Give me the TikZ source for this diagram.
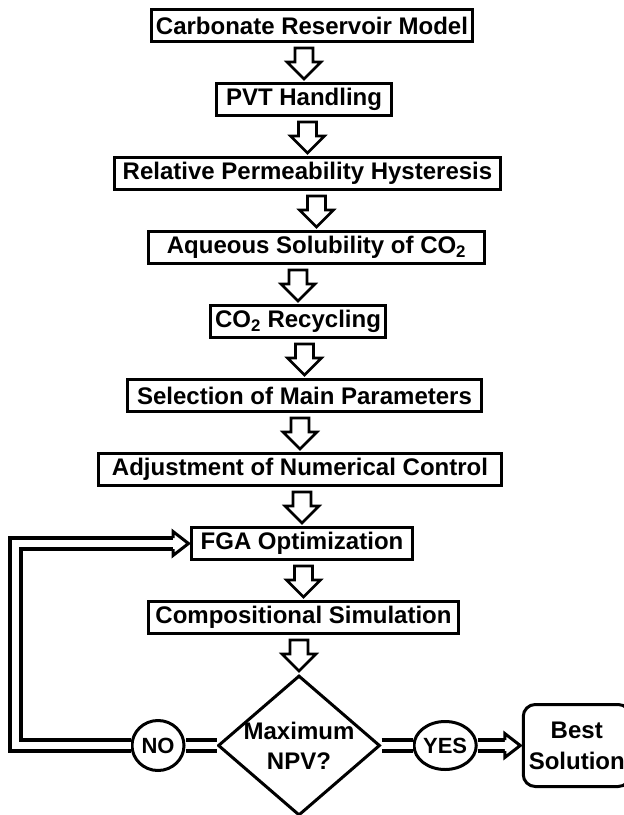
\documentclass[tikz,border=0pt]{standalone}
\usepackage{fontspec}
\setmainfont{Liberation Sans}
\usepackage{tikz}
\usetikzlibrary{shapes.geometric,positioning,calc}
\tikzset{
  stepbox/.style={draw=black,fill=white,line width=3pt,minimum height=32pt,
    inner xsep=4pt,inner ysep=0pt,font=\fontsize{24}{28}\selectfont\bfseries,align=center},
  decision/.style={diamond,draw=black,fill=white,line width=3pt,minimum width=162pt,
    minimum height=140pt,inner sep=-8pt,font=\fontsize{24}{30}\selectfont\bfseries,align=center},
  answer/.style={ellipse,draw=black,fill=white,line width=3pt,inner sep=0pt,
    font=\fontsize{22}{24}\selectfont\bfseries},
  endbox/.style={draw=black,fill=white,line width=3pt,rounded corners=12pt,minimum width=107pt,
    minimum height=82pt,inner sep=2pt,font=\fontsize{24}{31}\selectfont\bfseries,align=center},
  arr/.style={draw=black,fill=white,line width=2.6pt},
  dbl/.style={draw=black,line width=4pt,double=white,double distance=7pt},
  arrhead/.style={draw=black,fill=white,line width=3pt},
}
% hollow block arrow from the bottom of #1 down to the top of #2
\newcommand{\downarr}[2]{%
  \draw[arr] let \p1=(#2.north), \p2=(#1.south) in
    (\x1-9pt,\y2-5pt) -- (\x1+9pt,\y2-5pt) -- (\x1+9pt,\y1+20pt) -- (\x1+17pt,\y1+20pt)
    -- (\x1,\y1+3pt) -- (\x1-17pt,\y1+20pt) -- (\x1-9pt,\y1+20pt) -- cycle;}
% open head at the end of a double line, pointing right into #1
\newcommand{\rhead}[1]{%
  \draw[arrhead] let \p1=(#1) in
    (\x1-17pt,\y1+5.5pt) -- (\x1-17pt,\y1+12pt) -- (\x1-1.5pt,\y1)
    -- (\x1-17pt,\y1-12pt) -- (\x1-17pt,\y1-5.5pt);}

\begin{document}
\begin{tikzpicture}[x=1pt,y=1pt,node distance=39pt]
    \useasboundingbox (0,0) rectangle (624,-815);
    \node[stepbox,minimum width=319pt] (crm) at (312,-25.5) {Carbonate Reservoir Model};
    \node[stepbox,minimum width=175pt,below=of crm,xshift=-8pt] (pvt) {PVT Handling};
    \node[stepbox,minimum width=386pt,below=of pvt,xshift=3.5pt] (rph) {Relative Permeability Hysteresis};
    \node[stepbox,minimum width=336pt,below=of rph,xshift=9pt] (aqs) {Aqueous Solubility of CO\textsubscript{2}};
    \node[stepbox,minimum width=175pt,below=of aqs,xshift=-18.5pt] (rec) {CO\textsubscript{2} Recycling};
    \node[stepbox,minimum width=354pt,below=of rec,xshift=6.5pt] (sel) {Selection of Main Parameters};
    \node[stepbox,minimum width=403pt,below=of sel,xshift=-4.5pt] (adj) {Adjustment of Numerical Control};
    \node[stepbox,minimum width=221pt,below=of adj,xshift=2pt] (fga) {FGA Optimization};
    \node[stepbox,minimum width=310pt,below=of fga,xshift=1.5pt] (sim) {Compositional Simulation};
    \node[decision,below=of sim,xshift=-4.5pt] (npv) {Maximum\\NPV?};
    \node[answer,minimum width=52pt,minimum height=50pt,left=31pt of npv] (no) {NO};
    \node[answer,minimum width=54pt,minimum height=48pt,right=31pt of npv] (yes) {YES};
    \node[endbox,right=44pt of yes] (best) {Best\\Solution};
    \downarr{crm}{pvt}\downarr{pvt}{rph}\downarr{rph}{aqs}\downarr{aqs}{rec}\downarr{rec}{sel}
    \downarr{sel}{adj}\downarr{adj}{fga}\downarr{fga}{sim}\downarr{sim}{npv}
    \draw[dbl](npv.west)--(no.east);\draw[dbl](npv.east)--(yes.west);
    \draw[dbl,shorten >=17pt](no.west)--++(-115,0)|-(fga.west);
    \draw[dbl,shorten >=17pt](yes.east)--(best.west);
    \rhead{fga.west}\rhead{best.west}
  \end{tikzpicture}
\end{document}
